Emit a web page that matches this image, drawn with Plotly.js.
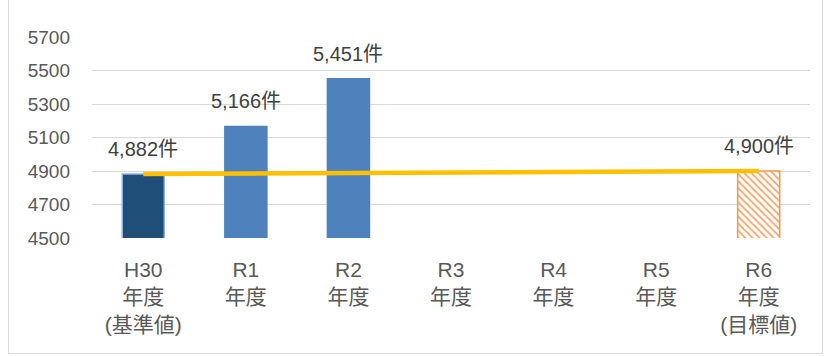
<!DOCTYPE html>
<html><head><meta charset="utf-8">
<script src="https://cdn.plot.ly/plotly-3.0.1.min.js"></script>
<style>
html,body{margin:0;padding:0;background:#fff;}
#wrap{position:absolute;left:8px;top:-2px;width:813px;height:354px;border:1px solid #D9D9D9;}
#chart{position:absolute;left:0;top:0;width:829px;height:356px;}
</style></head>
<body><div id="wrap"></div><div id="chart"></div>
<script>
const categories = ['H30<br>年度<br>(基準値)','R1<br>年度','R2<br>年度','R3<br>年度','R4<br>年度','R5<br>年度','R6<br>年度<br>(目標値)'];
const actualValues = [4882, 5166, 5451, null, null, null, null];
const targetValues = [null, null, null, null, null, null, 4900];
const lineCats = [categories[0], categories[6]];
const lineValues = [4882, 4900];
const labelText = ['4,882件','5,166件','5,451件', null, null, null, '4,900件'];

const fam = '"Liberation Sans", "Noto Sans CJK JP", sans-serif';
const barColors = ['#1F4E79','#4F81BD','#4F81BD','#4F81BD','#4F81BD','#4F81BD','#4F81BD'];
const barLines = ['#8EB4E3','#4F81BD','#4F81BD','#4F81BD','#4F81BD','#4F81BD','#4F81BD'];

const traces = [
  {type:'bar', x:categories, y:actualValues, width:0.41,
   marker:{color:barColors, line:{color:barLines, width:1.5}}, hoverinfo:'none'},
  {type:'bar', x:categories, y:targetValues, width:0.41,
   marker:{color:'#ffffff', line:{color:'#F79646', width:1.5},
           pattern:{shape:'\\', fgcolor:'#F9A66C', bgcolor:'#ffffff', size:5, solidity:0.35}}, hoverinfo:'none'},
  {type:'scatter', mode:'lines', x:lineCats, y:lineValues,
   line:{color:'#FFC000', width:4.5}, hoverinfo:'none'}
];

const annotations = [];
const allVals = actualValues.map((v,i)=> v!==null ? v : targetValues[i]);
categories.forEach((c,i)=>{
  if(labelText[i]){
    annotations.push({x:c, y:allVals[i], xref:'x', yref:'y', text:labelText[i], showarrow:false,
      yanchor:'bottom', yshift:12, font:{family:fam, size:20, color:'#404040'}});
  }
});

const layout = {
  width:829, height:356,
  margin:{l:92, r:19, t:37, b:118},
  paper_bgcolor:'rgba(0,0,0,0)', plot_bgcolor:'rgba(0,0,0,0)',
  showlegend:false, barmode:'overlay',
  font:{family:fam, color:'#595959'},
  xaxis:{type:'category', showgrid:false, zeroline:false, showline:false, ticks:'',
         ticklabelstandoff:17,
         tickfont:{family:fam, size:21, color:'#595959'}, fixedrange:true},
  yaxis:{range:[4500,5700], dtick:200, tick0:4500, showgrid:true, gridcolor:'#D9D9D9', gridwidth:1,
         zeroline:false, showline:false, ticks:'', ticklabelstandoff:21,
         tickfont:{family:fam, size:19, color:'#595959'}, fixedrange:true},
  annotations:annotations
};
Plotly.newPlot('chart', traces, layout, {staticPlot:true, displayModeBar:false});
</script></body></html>
